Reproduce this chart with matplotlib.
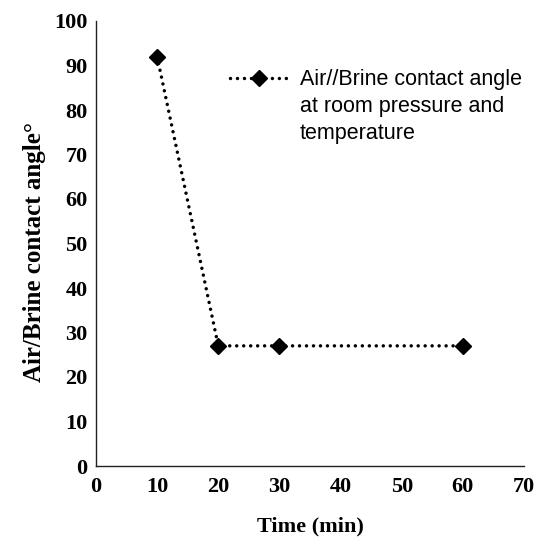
import matplotlib
matplotlib.use("Agg")
import matplotlib.pyplot as plt
from matplotlib.lines import Line2D

time_min = [10, 20, 30, 60]
contact_angle = [92, 27, 27, 27]
x_ticks = [0, 10, 20, 30, 40, 50, 60, 70]
y_ticks = [0, 10, 20, 30, 40, 50, 60, 70, 80, 90, 100]
legend_lines = ["Air//Brine contact angle", "at room pressure and", "temperature"]

DOTS = (0, (0.01, 2.0))

fig = plt.figure(figsize=(5.40, 5.39), dpi=100)
ax = fig.add_axes([96/540, 1-466/539, (524-96)/540, (466-21)/539])

ax.plot(time_min, contact_angle, color="black", linestyle=DOTS, linewidth=2.5,
        dash_capstyle="round",
        marker="D", markersize=8, markerfacecolor="black", markeredgecolor="black")

ax.set_xlim(0, 70)
ax.set_ylim(0, 100)
ax.set_xticks(x_ticks)
ax.set_yticks(y_ticks)
for s in ["top", "right"]:
    ax.spines[s].set_visible(False)
for s in ["left", "bottom"]:
    ax.spines[s].set_linewidth(1.0)
    ax.spines[s].set_color("#222222")
ax.tick_params(axis="y", length=0, pad=6)
ax.tick_params(axis="x", length=0, pad=8)
for lbl in ax.get_xticklabels() + ax.get_yticklabels():
    lbl.set_fontfamily("Liberation Serif")
    lbl.set_fontweight("bold")
    lbl.set_fontsize(16)

ax.set_xlabel("Time (min)", fontfamily="Liberation Serif", fontweight="bold", fontsize=16, labelpad=14)
ax.set_ylabel("Air/Brine contact angle°", fontfamily="Liberation Serif", fontweight="bold", fontsize=18)
ax.yaxis.set_label_coords(-0.117, 0.48)

h_main = Line2D([], [], color="black", linestyle=DOTS, linewidth=2.5, dash_capstyle="round",
                marker="D", markersize=8, markerfacecolor="black")
h_blank = Line2D([], [], linestyle="none")
leg = ax.legend([h_main, h_blank, h_blank], legend_lines, loc="upper left",
                bbox_to_anchor=(0.293, 0.911), frameon=False, handlelength=2.65,
                handletextpad=0.6, labelspacing=0.28, borderaxespad=0,
                prop={"family": "Liberation Sans", "size": 15.5})

fig.savefig("out.png", dpi=100)
